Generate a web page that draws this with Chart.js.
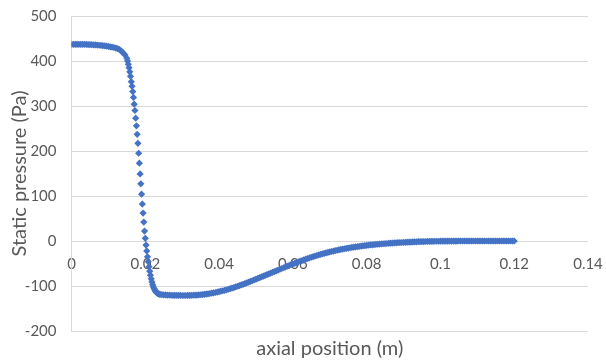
<!DOCTYPE html>
<html>
<head>
<meta charset="utf-8">
<script src="https://cdn.jsdelivr.net/npm/chart.js@4"></script>
<style>
	body { margin: 0; background: #fff; }
</style>
</head>
<body>
<canvas id="myChart" width="606" height="362"></canvas>
<script>
// tick labels
const xTickLabels = ["0", "0.02", "0.04", "0.06", "0.08", "0.1", "0.12", "0.14"]
const yTickLabels = ["-200", "-100", "0", "100", "200", "300", "400", "500"]

// axial position sampling: each segment starts at segStart and steps by segStep (m)
const segStart = [0, 0.015, 0.0245]
const segStep = [0.0005, 0.0002, 0.0005]

// static pressure (Pa)
// inlet plateau, 0 .. 0.0145
const pressureInlet = [
	437, 437, 437, 437, 437, 437, 437, 437, 436.8, 436.6,
	436.4, 436.2, 436, 435.7, 435.4, 435, 434.6, 434.1, 433.6, 433,
	432.3, 431.5, 430.8, 430, 428.8, 427.5, 425.5, 422, 418, 413.5,
]
// steep drop, 0.015 .. 0.024
const pressureDrop = [
	406, 400, 393, 385, 376, 366, 354, 344, 332, 319,
	304, 290, 273, 256, 237, 217, 195, 173, 149, 127,
	104, 82, 62, 42, 22, 6, -9, -22, -35, -46,
	-57, -67, -76, -84, -91, -97, -102, -106, -109, -112,
	-114, -115.5, -116.5, -117.5, -118.2, -118.8,
]
// recovery, 0.0245 .. 0.12
const pressureRecovery = [
	-119.2, -119.5, -119.8, -120.1, -120.3, -120.5, -120.7, -120.8, -120.9, -121,
	-121, -121.1, -121.1, -121.1, -121, -121, -120.8, -120.6, -120.4, -120.1,
	-119.8, -119.4, -119, -118.5, -118, -117.4, -116.7, -116, -115.2, -114.4,
	-113.5, -112.6, -111.6, -110.6, -109.5, -108.4, -107.2, -106, -104.7, -103.4,
	-102, -100.6, -99.2, -97.7, -96.2, -94.7, -93.1, -91.5, -89.9, -88.3,
	-86.6, -84.9, -83.2, -81.5, -79.8, -78.1, -76.4, -74.7, -73, -71.3,
	-69.6, -67.9, -66.2, -64.5, -62.8, -61.1, -59.4, -57.7, -56, -54.3,
	-52.7, -51.1, -49.5, -47.9, -46.3, -44.8, -43.3, -41.8, -40.3, -38.9,
	-37.5, -36.1, -34.8, -33.5, -32.2, -31, -29.8, -28.6, -27.5, -26.4,
	-25.3, -24.3, -23.3, -22.3, -21.4, -20.5, -19.6, -18.8, -18, -17.2,
	-16.4, -15.7, -15, -14.3, -13.7, -13.1, -12.5, -11.9, -11.3, -10.8,
	-10.3, -9.8, -9.3, -8.8, -8.4, -8, -7.6, -7.2, -6.8, -6.4,
	-6.1, -5.8, -5.5, -5.2, -4.9, -4.6, -4.3, -4, -3.8, -3.5,
	-3.3, -3.1, -2.9, -2.7, -2.5, -2.3, -2.1, -1.9, -1.8, -1.6,
	-1.5, -1.3, -1.2, -1.1, -1, -0.9, -0.8, -0.7, -0.6, -0.5,
	-0.5, -0.4, -0.4, -0.3, -0.3, -0.2, -0.2, -0.2, -0.1, -0.1,
	-0.1, 0, 0, 0, 0, 0, 0, 0, 0, 0,
	0, 0, 0, 0, 0, 0, 0, 0, 0, 0,
	0, 0, 0, 0, 0, 0, 0, 0, 0, 0,
	0, 0,
]

// build scatter points
const points = []
;[pressureInlet, pressureDrop, pressureRecovery].forEach((seg, s) => {
	seg.forEach((p, i) => {
		points.push({ x: +(segStart[s] + i * segStep[s]).toFixed(5), y: p })
	})
})

const textColor = "#595959"
const gridColor = "#d9d9d9"
const fontFamily = "Lato, 'Noto Sans', sans-serif"

const chart = document.querySelector("#myChart").getContext("2d")

const myChart = new Chart(chart, {
	type: "scatter",
	data: {
		datasets: [
			{
				data: points,
				pointStyle: "rectRot",
				pointRadius: 3.6,
				pointBorderWidth: 0,
				backgroundColor: "#4472C4",
				borderColor: "#4472C4",
			},
		],
	},
	options: {
		responsive: false,
		animation: false,
		events: [],
		layout: { padding: { top: 16, right: 18, left: 0, bottom: 0 } },
		plugins: {
			legend: { display: false },
			tooltip: { enabled: false },
		},
		scales: {
			x: {
				type: "linear",
				position: { y: 0 },
				min: 0,
				max: 0.14,
				grid: { display: false, drawTicks: false },
				border: { display: false },
				ticks: {
					stepSize: 0.02,
					padding: 14,
					color: textColor,
					font: { family: fontFamily, size: 15 },
					maxRotation: 0,
					callback: (v, i) => xTickLabels[i],
				},
				// labels may run into the outer margin, like in the original
				afterFit: s => {
					s.paddingLeft = 0
					s.paddingRight = 0
				},
			},
			xTitle: {
				type: "linear",
				axis: "x",
				position: "bottom",
				min: 0,
				max: 1,
				grid: { display: false },
				border: { display: false },
				ticks: { display: false },
				title: {
					display: true,
					text: "axial position (m)",
					color: textColor,
					font: { family: fontFamily, size: 20 },
					padding: { top: 0, bottom: 1 },
				},
				afterFit: s => {
					s.height = 31
				},
			},
			y: {
				type: "linear",
				position: "left",
				min: -200,
				max: 500,
				grid: { color: gridColor, drawTicks: false },
				border: { display: true, color: gridColor },
				ticks: {
					stepSize: 100,
					padding: 15,
					color: textColor,
					font: { family: fontFamily, size: 15 },
					callback: (v, i) => yTickLabels[i],
				},
				title: {
					display: true,
					text: "Static pressure (Pa)",
					color: textColor,
					font: { family: fontFamily, size: 20 },
					padding: { top: 8, bottom: 0 },
				},
				afterFit: s => {
					s.width = 71.5
					s.paddingTop = 0
					s.paddingBottom = 0
				},
			},
		},
	},
})
</script>
</body>
</html>
